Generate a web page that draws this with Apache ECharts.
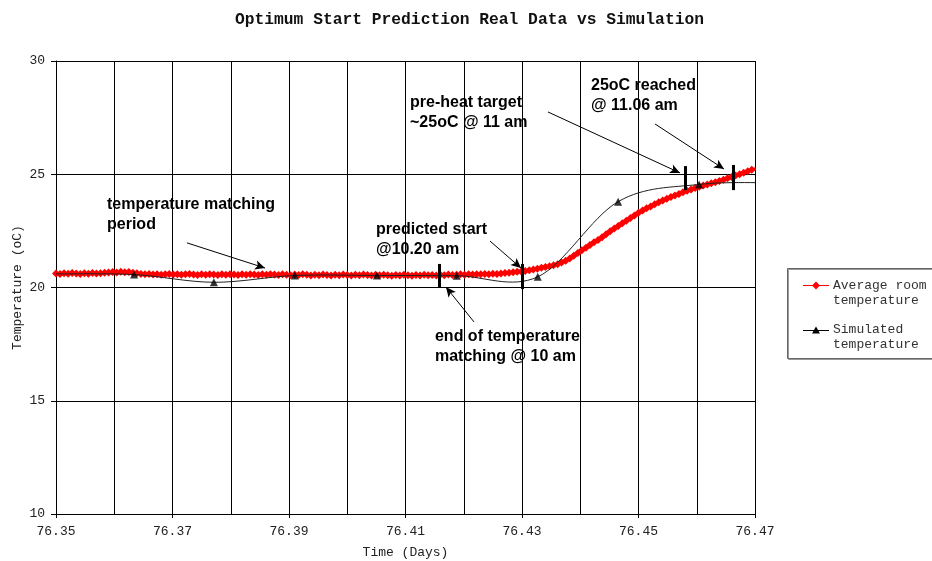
<!DOCTYPE html>
<html><head><meta charset="utf-8">
<script src="https://cdn.jsdelivr.net/npm/echarts@6/dist/echarts.min.js"></script>
<style>html,body{margin:0;padding:0;background:#fff}#c{width:932px;height:561px}</style>
</head><body><div id="c"></div>
<script>
// ---- data ----
const chartTitle = 'Optimum Start Prediction Real Data vs Simulation';
const xAxisName = 'Time (Days)';
const yAxisName = 'Temperature (oC)';
const seriesNames = ['Average room temperature', 'Simulated temperature'];

// measured data: one reading per minute starting at day 76.35
const measuredStart = 76.35;
const measuredStepDays = 1 / 1440;
const measuredTemps = [
  20.62, 20.60, 20.63, 20.61, 20.64, 20.62, 20.60, 20.63, 20.61, 20.64, 20.62, 20.63, 20.65,
  20.66, 20.68, 20.66, 20.69, 20.67, 20.68, 20.65, 20.63,
  20.60, 20.58, 20.60, 20.57, 20.59, 20.56, 20.58, 20.60, 20.57, 20.59, 20.56, 20.58, 20.60, 20.57, 20.55, 20.58, 20.56, 20.59, 20.57, 20.55,
  20.58, 20.56, 20.59, 20.57, 20.55, 20.58, 20.56, 20.59, 20.57, 20.55, 20.58, 20.56, 20.59, 20.57, 20.55, 20.58, 20.56, 20.54, 20.57, 20.55,
  20.58, 20.56, 20.53, 20.56, 20.54, 20.57, 20.55, 20.53, 20.56, 20.54, 20.57, 20.55, 20.53, 20.56, 20.54, 20.57, 20.55, 20.53, 20.56, 20.54,
  20.56, 20.54, 20.52, 20.55, 20.53, 20.56, 20.54, 20.52, 20.55, 20.53, 20.56, 20.54, 20.55, 20.53, 20.56, 20.54, 20.57, 20.55, 20.56, 20.58,
  20.56, 20.58, 20.57, 20.59, 20.58, 20.60, 20.59, 20.61, 20.60,
  20.62, 20.64, 20.65, 20.67, 20.69, 20.71, 20.73, 20.76, 20.79, 20.83,
  20.87, 20.91, 20.94, 20.98, 21.03, 21.10, 21.18, 21.28, 21.40, 21.52,
  21.64, 21.76, 21.88, 22.00, 22.10, 22.22, 22.35, 22.48, 22.60, 22.72,
  22.84, 22.95, 23.07, 23.18, 23.30, 23.40, 23.50, 23.58, 23.67, 23.76,
  23.84, 23.92, 24.00, 24.06, 24.13, 24.20, 24.27, 24.33, 24.39, 24.45,
  24.50, 24.55, 24.60, 24.65, 24.70, 24.76, 24.82, 24.88, 24.94,
  25.00, 25.07, 25.13, 25.20, 25.25
];

// simulated data (every ~20 minutes)
const simTimes = [76.3497, 76.3634, 76.3771, 76.3910, 76.4051, 76.4188, 76.4327, 76.4465, 76.4604, 76.4743];
const simTemps = [20.60, 20.57, 20.23, 20.53, 20.53, 20.52, 20.47, 23.79, 24.55, 24.62];

// annotations (in data units: [day, temperature])
const noteTexts = [
  { text: 'temperature matching\nperiod', at: [76.35876, 24.08] },
  { text: 'predicted start\n@10.20 am', at: [76.40494, 23.02] },
  { text: 'end of temperature\nmatching @ 10 am', at: [76.41506, 18.26] },
  { text: 'pre-heat target\n~25oC @ 11 am', at: [76.41077, 28.59] },
  { text: '25oC reached\n@ 11.06 am', at: [76.44185, 29.34] }
];
const noteArrows = [
  [[76.37249, 21.97], [76.38588, 20.86]],
  [[76.42451, 22.05], [76.42983, 20.86]],
  [[76.42176, 18.48], [76.41695, 20.02]],
  [[76.43446, 27.75], [76.45712, 25.06]],
  [[76.45283, 27.22], [76.46468, 25.23]]
];
const noteBars = [
  [76.4158, 21.04, 19.98],
  [76.4300, 21.04, 19.93],
  [76.4580, 25.36, 24.30],
  [76.4662, 25.41, 24.30]
];

// ---- build ----
const measured = measuredTemps.map((v, i) => [measuredStart + i * measuredStepDays, v]);
const simulated = simTimes.map((t, i) => [t, simTemps[i]]);

const mono = '"Liberation Mono", "DejaVu Sans Mono", monospace';
const chart = echarts.init(document.getElementById('c'), null, { renderer: 'canvas' });

// spreadsheet-style (Catmull-Rom) smoothed segment between simulated points i and i+1
function renderSimSegment(params, api) {
  const i = params.dataIndex;
  const n = simulated.length;
  if (i >= n - 1) return null;
  const P = k => api.coord(simulated[Math.max(0, Math.min(n - 1, k))]);
  const p0 = P(i - 1), p1 = P(i), p2 = P(i + 1), p3 = P(i + 2);
  return {
    type: 'bezierCurve',
    shape: {
      x1: p1[0], y1: p1[1], x2: p2[0], y2: p2[1],
      cpx1: p1[0] + (p2[0] - p0[0]) / 6, cpy1: p1[1] + (p2[1] - p0[1]) / 6,
      cpx2: p2[0] - (p3[0] - p1[0]) / 6, cpy2: p2[1] - (p3[1] - p1[1]) / 6
    },
    style: { stroke: '#222', lineWidth: 1, fill: null }
  };
}

const option = {
  animation: false,
  backgroundColor: '#fff',
  title: {
    text: chartTitle, left: 230, top: 7,
    textStyle: { fontFamily: mono, fontSize: 16.3, fontWeight: 'bold', color: '#111' }
  },
  grid: { left: 56, right: 177, top: 61, bottom: 47, show: false, containLabel: false, outerBoundsMode: 'none' },
  xAxis: {
    type: 'value', min: 76.35, max: 76.47, interval: 0.02,
    name: xAxisName, nameLocation: 'middle', nameGap: 32, nameMoveOverlap: false,
    nameTextStyle: { fontFamily: mono, fontSize: 13, color: '#222' },
    axisLine: { show: true, onZero: false, lineStyle: { color: '#000', width: 1 } },
    axisTick: { show: true, length: 4, lineStyle: { color: '#000' } },
    minorTick: { show: false, splitNumber: 2 },
    axisLabel: { formatter: v => v.toFixed(2), fontFamily: mono, fontSize: 13, color: '#222', margin: 11 },
    splitLine: { show: true, lineStyle: { color: '#000', width: 1 } },
    minorSplitLine: { show: true, lineStyle: { color: '#000', width: 1 } }
  },
  yAxis: {
    type: 'value', min: 10, max: 30, interval: 5,
    name: yAxisName, nameLocation: 'middle', nameGap: 32, nameRotate: 90, nameMoveOverlap: false,
    nameTextStyle: { fontFamily: mono, fontSize: 13, color: '#222' },
    axisLine: { show: true, lineStyle: { color: '#000', width: 1 } },
    axisTick: { show: true, length: 5, lineStyle: { color: '#000' } },
    axisLabel: { fontFamily: mono, fontSize: 13, color: '#222', margin: 11 },
    splitLine: { show: true, lineStyle: { color: '#000', width: 1 } }
  },
  series: [
    {
      name: seriesNames[0], type: 'line', data: measured,
      symbol: 'diamond', symbolSize: 8, showAllSymbol: true,
      lineStyle: { color: '#ff0000', width: 3 },
      itemStyle: { color: '#ff0000' },
      z: 3, clip: true,
      markLine: {
        silent: true, symbol: ['none', 'none'], animation: false,
        label: { show: false },
        lineStyle: { color: '#000', width: 3, type: 'solid' },
        emphasis: { disabled: true },
        data: noteBars.map(b => [{ coord: [b[0], b[1]] }, { coord: [b[0], b[2]] }])
      }
    },
    {
      name: seriesNames[1], type: 'custom', data: simulated,
      renderItem: renderSimSegment, clip: true, z: 4, silent: true
    },
    {
      name: seriesNames[1], type: 'scatter', data: simulated,
      symbol: 'triangle', symbolSize: 8,
      itemStyle: { color: '#000' },
      z: 5, clip: true, silent: true,
      markLine: {
        silent: true, symbol: ['none', 'arrow'], symbolSize: [7, 10], animation: false,
        label: { show: false },
        lineStyle: { color: '#000', width: 1, type: 'solid' },
        emphasis: { disabled: true },
        data: noteArrows.map(a => [{ coord: a[0] }, { coord: a[1] }])
      }
    }
  ]
};
chart.setOption(option);

// annotation texts + legend
const graphics = noteTexts.map(n => {
  const p = chart.convertToPixel({ gridIndex: 0 }, n.at);
  return {
    type: 'text', x: p[0], y: p[1], z: 100, silent: true,
    style: { text: n.text, fill: '#000', fontFamily: '"Liberation Sans", Arial, sans-serif',
      fontSize: 16, fontWeight: 'bold', lineHeight: 20, verticalAlign: 'top', align: 'left' }
  };
});
graphics.push(
  { type: 'rect', z: 100, silent: true, shape: { x: 787.5, y: 268.5, width: 170, height: 90 },
    style: { fill: '#fff', stroke: '#666', lineWidth: 1, shadowColor: '#999', shadowOffsetX: 1, shadowOffsetY: 1 } },
  { type: 'line', z: 101, silent: true, shape: { x1: 803, y1: 285.5, x2: 829, y2: 285.5 }, style: { stroke: '#ff0000', lineWidth: 1 } },
  { type: 'polygon', z: 102, silent: true, shape: { points: [[816, 281.5], [820, 285.5], [816, 289.5], [812, 285.5]] }, style: { fill: '#ff0000' } },
  { type: 'text', z: 101, silent: true, x: 833, y: 278,
    style: { text: 'Average room\ntemperature', fill: '#333', fontFamily: mono, fontSize: 13, lineHeight: 15, verticalAlign: 'top' } },
  { type: 'line', z: 101, silent: true, shape: { x1: 803, y1: 330.5, x2: 829, y2: 330.5 }, style: { stroke: '#000', lineWidth: 1 } },
  { type: 'polygon', z: 102, silent: true, shape: { points: [[816, 326.5], [820, 333.5], [812, 333.5]] }, style: { fill: '#000' } },
  { type: 'text', z: 101, silent: true, x: 833, y: 322,
    style: { text: 'Simulated\ntemperature', fill: '#333', fontFamily: mono, fontSize: 13, lineHeight: 15, verticalAlign: 'top' } }
);
chart.setOption({ graphic: graphics });
</script>
</body></html>
